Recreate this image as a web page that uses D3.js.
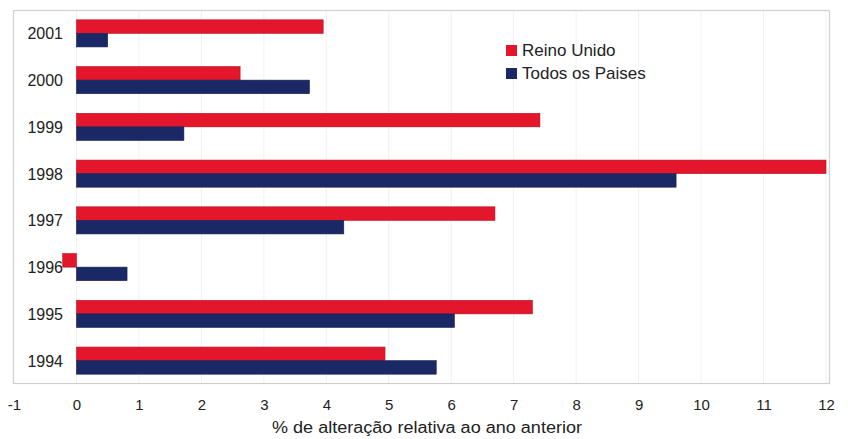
<!DOCTYPE html>
<html><head><meta charset="utf-8">
<script src="https://cdn.jsdelivr.net/npm/d3@7"></script>
<style>body{margin:0;background:#fff;} text{font-family:"Liberation Sans",Arial,sans-serif;fill:#222;}</style>
</head><body>
<svg id="c" width="848" height="439"></svg>
<script>
const years = ["2001","2000","1999","1998","1997","1996","1995","1994"];
const reinoUnido = [3.95, 2.62, 7.42, 12.0, 6.70, -0.22, 7.30, 4.94];
const todosPaises = [0.50, 3.73, 1.72, 9.60, 4.28, 0.81, 6.05, 5.76];
const seriesNames = ["Reino Unido", "Todos os Paises"];
const colors = ["#e3162c", "#1b2866"];
const xTicks = d3.range(-1, 13);
const xTitle = "% de alteração relativa ao ano anterior";

const svg = d3.select("#c");
const x = d3.scaleLinear().domain([-1, 12]).range([14, 826]);
const y = d3.scaleBand().domain(years).range([10, 384]).paddingInner(0.42).paddingOuter(0.21);
const sub = d3.scaleBand().domain([0,1]).range([0, y.bandwidth()]);

// grid
svg.append("g").selectAll("line").data(xTicks.slice(1)).join("line")
  .attr("x1", d=>x(d)).attr("x2", d=>x(d)).attr("y1", 10).attr("y2", 383)
  .attr("stroke", "#f1f1f1").attr("stroke-width", 1);

// frame
svg.append("rect").attr("x", 13.5).attr("y", 10.5).attr("width", 816).attr("height", 373)
  .attr("fill", "none").attr("stroke", "#cfcfcf").attr("stroke-width", 1.2);

const series = [reinoUnido, todosPaises];
series.forEach((vals, si) => {
  svg.append("g").selectAll("rect").data(vals).join("rect")
    .attr("x", d => x(Math.min(0, d)))
    .attr("width", d => Math.abs(x(d) - x(0)))
    .attr("y", (d,i) => y(years[i]) + sub(si))
    .attr("height", sub.bandwidth())
    .attr("fill", colors[si])
    .attr("stroke", d3.color(colors[si]).darker(0.6))
    .attr("stroke-width", 0.6);
});

// y labels
svg.append("g").selectAll("text").data(years).join("text")
  .attr("x", 63).attr("y", d => y(d) + y.bandwidth()/2 + 6)
  .attr("text-anchor", "end").attr("font-size", 16).text(d => d);

// x axis
const xa = svg.append("g").attr("transform", "translate(0,383)")
  .call(d3.axisBottom(x).tickValues(xTicks).tickSize(0).tickPadding(16).tickFormat(d => String(d)));
xa.select(".domain").remove();
xa.selectAll("text").attr("font-size", 15).attr("font-family", "'Liberation Sans',Arial,sans-serif").attr("fill", "#222");

svg.append("text").attr("x", 272).attr("y", 433)
  .attr("font-size", 16).attr("textLength", 310).attr("lengthAdjust", "spacingAndGlyphs").text(xTitle);

// legend
const lg = svg.append("g").attr("transform", "translate(506,45)");
seriesNames.forEach((n, i) => {
  lg.append("rect").attr("x", 0).attr("y", i*23).attr("width", 11).attr("height", 11)
    .attr("fill", colors[i]);
  lg.append("text").attr("x", 16).attr("y", i*23 + 11).attr("font-size", 17).text(n);
});
</script>
</body></html>
